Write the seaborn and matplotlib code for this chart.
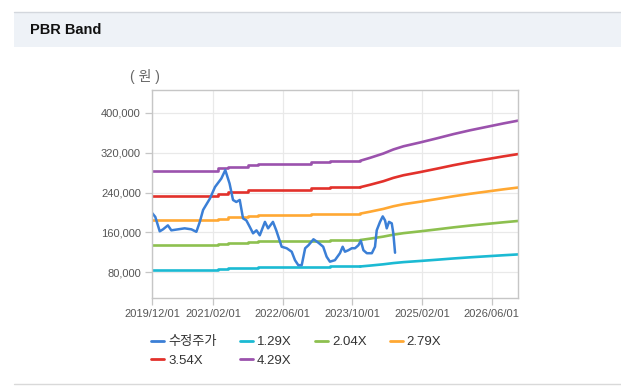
"""
PBR Band chart: adjusted share price against BPS x multiple bands.
Values read off the reference picture.
"""
import numpy as np
import pandas as pd
import matplotlib
matplotlib.use('Agg')
import matplotlib.pyplot as plt
import matplotlib.dates as mdates
from matplotlib.patches import Rectangle
from matplotlib.lines import Line2D
from matplotlib.ticker import FuncFormatter
import seaborn as sns

# --- data -------------------------------------------------------------------
price_dates = [
    '2019-12-01', '2019-12-24', '2020-01-24', '2020-02-16', '2020-03-21',
    '2020-04-14', '2020-05-31', '2020-07-16', '2020-09-01', '2020-10-06',
    '2020-10-30', '2020-11-22', '2021-01-09', '2021-02-13', '2021-03-29',
    '2021-04-26', '2021-05-26', '2021-06-19', '2021-07-12', '2021-08-05',
    '2021-08-28', '2021-09-20', '2021-10-14', '2021-11-06', '2021-11-30',
    '2021-12-23', '2022-01-28', '2022-02-19', '2022-03-25', '2022-04-17',
    '2022-05-25', '2022-06-29', '2022-08-03', '2022-08-26', '2022-09-18',
    '2022-10-12', '2022-11-05', '2022-11-28', '2023-01-02', '2023-02-06',
    '2023-03-11', '2023-04-04', '2023-04-27', '2023-06-01', '2023-07-06',
    '2023-07-25', '2023-08-10', '2023-09-03', '2023-09-27', '2023-10-19',
    '2023-11-12', '2023-11-29', '2023-12-17', '2024-01-10', '2024-02-14',
    '2024-03-07', '2024-03-19', '2024-04-11', '2024-04-30', '2024-05-16',
    '2024-05-28', '2024-06-13', '2024-07-02', '2024-07-13', '2024-07-25',
]
price_values = [
    199000, 191000, 162000, 166000, 174000,
    164000, 166000, 168000, 166000, 161000,
    181000, 205000, 228000, 251000, 268000,
    285000, 258000, 225000, 221000, 225000,
    188000, 184000, 171000, 158000, 164000,
    154000, 181000, 168000, 181000, 164000,
    131000, 128000, 121000, 104000, 94000,
    94000, 128000, 134000, 146000, 139000,
    131000, 111000, 101000, 104000, 118000,
    131000, 121000, 124000, 128000, 128000,
    134000, 143000, 124000, 118000, 118000,
    131000, 164000, 181000, 192000, 184000,
    168000, 181000, 178000, 158000, 119000,
]

# book value per share, reported (stepped) and forecast part
bps_hist_dates = ['2019-12-01', '2021-03-05', '2021-05-14', '2021-10-02',
                  '2021-12-10', '2022-12-16', '2023-04-28', '2023-11-24']
bps_hist_values = [66000, 67200, 68100, 69000, 69500, 70200, 70800, 70800]

bps_fcst_dates = ['2023-11-24', '2024-02-02', '2024-05-04', '2024-07-13',
                  '2024-09-22', '2025-01-17', '2025-05-12', '2025-09-06',
                  '2026-01-01', '2026-04-27', '2026-08-21', '2026-12-01']
bps_fcst_values = [70800, 72200, 74200, 76100, 77600, 79400, 81300, 83300,
                   85100, 86700, 88300, 89600]

multiples = [1.29, 2.04, 2.79, 3.54, 4.29]
band_labels = ['1.29X', '2.04X', '2.79X', '3.54X', '4.29X']
band_colors = ['#1bbad3', '#8dc04f', '#ffa833', '#e2312b', '#9b52ad']
price_label = '수정주가'
price_color = '#3b7fd6'

x_ticks = ['2019/12/01', '2021/02/01', '2022/06/01', '2023/10/01',
           '2025/02/01', '2026/06/01']
y_ticks = [80000, 160000, 240000, 320000, 400000]

# --- frames -----------------------------------------------------------------
def band_frame(dates, bps):
    rows = []
    for lab, m in zip(band_labels, multiples):
        for d, b in zip(dates, bps):
            rows.append({'date': pd.Timestamp(d), 'value': b * m, 'band': lab})
    return pd.DataFrame(rows)

hist_df = band_frame(bps_hist_dates, bps_hist_values)
fcst_df = band_frame(bps_fcst_dates, bps_fcst_values)
price_df = pd.DataFrame({'date': pd.to_datetime(price_dates),
                         'value': price_values})

# --- figure -----------------------------------------------------------------
sns.set_style('white')
plt.rcParams['font.family'] = ['Liberation Sans', 'Noto Sans CJK KR']

W, H = 621, 389
fig = plt.figure(figsize=(W / 100, H / 100), dpi=100)
fig.patch.set_facecolor('white')

# header strip
fig.add_artist(Rectangle((14 / W, 1 - 47 / H), 1, 35 / H,
                         transform=fig.transFigure, facecolor='#eef2f7',
                         edgecolor='none', zorder=0))
fig.add_artist(Line2D([14 / W, 1], [1 - 11.5 / H, 1 - 11.5 / H],
                      transform=fig.transFigure, color='#d3d7dd', lw=1))
fig.add_artist(Line2D([14 / W, 1], [1 - 383.5 / H, 1 - 383.5 / H],
                      transform=fig.transFigure, color='#d9d9d9', lw=1))
fig.text(30 / W, 1 - 30 / H, 'PBR Band', fontsize=10.5, fontweight='bold',
         color='#111111', va='center', ha='left')

ax = fig.add_axes([152 / W, 1 - 298 / H, 366 / W, 208 / H])

pal = dict(zip(band_labels, band_colors))
sns.lineplot(data=hist_df, x='date', y='value', hue='band', palette=pal,
             drawstyle='steps-post', linewidth=1.9, legend=False, ax=ax)
sns.lineplot(data=fcst_df, x='date', y='value', hue='band', palette=pal,
             linewidth=1.9, legend=False, ax=ax)
sns.lineplot(data=price_df, x='date', y='value', color=price_color,
             linewidth=1.8, legend=False, ax=ax)

ax.set_xlim(pd.Timestamp('2019-12-01'), pd.Timestamp('2026-12-01'))
ax.set_ylim(28000, 446000)
ax.set_xticks([pd.Timestamp(t.replace('/', '-')) for t in x_ticks])
ax.xaxis.set_major_formatter(mdates.DateFormatter('%Y/%m/%d'))
ax.set_yticks(y_ticks)
ax.yaxis.set_major_formatter(FuncFormatter(lambda v, p: f'{int(v):,}'))
ax.set_xlabel('')
ax.set_ylabel('')

ax.grid(True, color='#e9e9e9', linewidth=0.9)
ax.set_axisbelow(True)
for s in ax.spines.values():
    s.set_color('#c6c6c6')
    s.set_linewidth(1.0)
ax.tick_params(axis='both', which='major', length=5, width=0.9,
               color='#c6c6c6', labelcolor='#555555', labelsize=8, pad=3,
               direction='out')
ax.tick_params(axis='x', bottom=True)
ax.tick_params(axis='y', left=True)

fig.text(145 / W, 1 - 77 / H, '( 원 )', fontsize=10, color='#666666',
         ha='center', va='center')

# legend, row-major order emulated for matplotlib column filling
entries = [(price_label, price_color)] + list(zip(band_labels, band_colors))
order = [0, 4, 1, 5, 2, 3]
handles = [Line2D([], [], color=entries[i][1], lw=2) for i in order]
labels = [entries[i][0] for i in order]
fig.legend(handles, labels, ncol=4, loc='upper left',
           bbox_to_anchor=(151 / W, 1 - 336 / H), frameon=False,
           fontsize=9.5, handlelength=1.0, handletextpad=0.3,
           columnspacing=1.75, labelspacing=0.5, borderpad=0,
           borderaxespad=0, labelcolor='#333333')

fig.savefig('out.png', dpi=100)
